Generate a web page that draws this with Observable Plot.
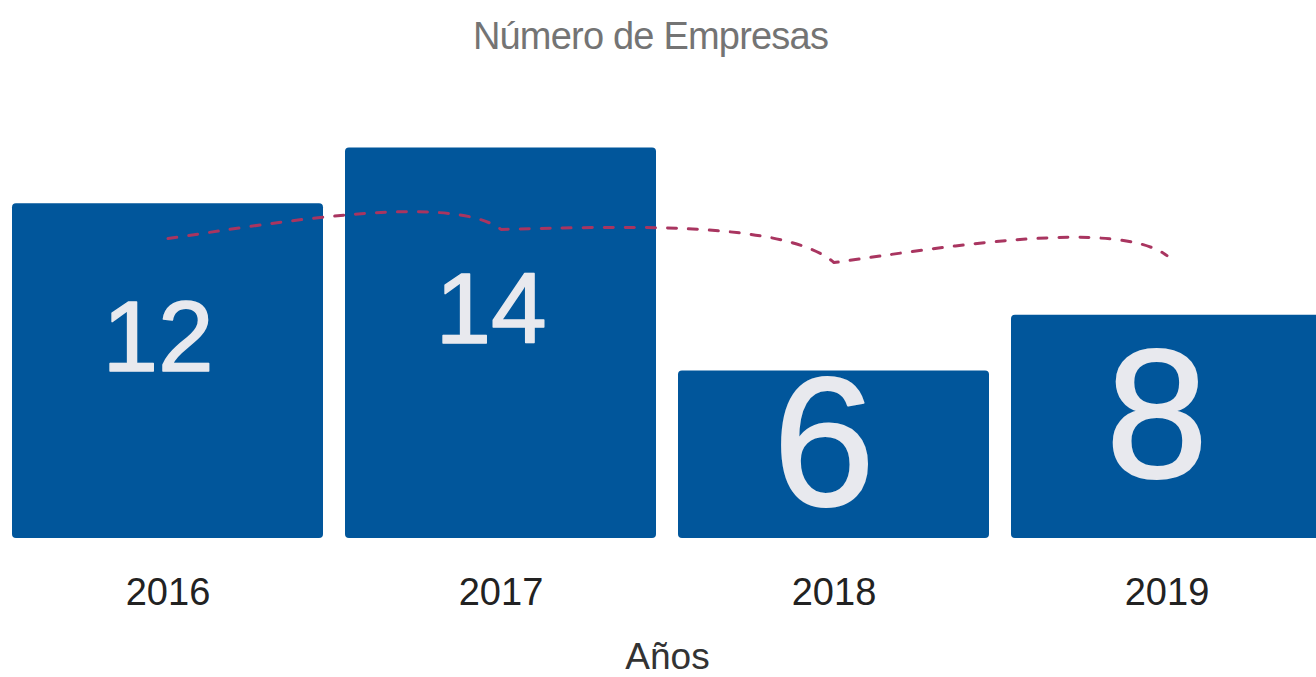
<!DOCTYPE html>
<html>
<head>
<meta charset="utf-8">
<script src="https://cdn.jsdelivr.net/npm/d3@7"></script>
<script src="https://cdn.jsdelivr.net/npm/@observablehq/plot@0.6"></script>
<style>
  html, body { margin: 0; padding: 0; background: #fff; overflow: hidden; }
  #title {
    box-sizing: border-box; width: 1301px; height: 70px; padding-top: 17px;
    font-family: "Liberation Sans", Arial, sans-serif; font-size: 38px; line-height: 38px;
    letter-spacing: -0.8px; color: #747474; text-align: center; white-space: nowrap;
  }
</style>
</head>
<body>
<div id="title">Número de Empresas</div>
<div id="chart"></div>
<script>
const anios = ["2016", "2017", "2018", "2019"];
const empresas = [12, 14, 6, 8];
const tendencia = [10.75, 11.08, 9.89, 10.14];
const ejeTitulo = "Años";

const data = anios.map((a, i) => ({anio: a, empresas: empresas[i], tendencia: tendencia[i]}));

// curve that bows each segment upward, leaning toward its end
function bowCurve(context) {
  let pts;
  return {
    areaStart() {}, areaEnd() {},
    lineStart() { pts = []; },
    point(x, y) { pts.push([+x, +y]); },
    lineEnd() {
      if (!pts.length) return;
      context.moveTo(pts[0][0], pts[0][1]);
      for (let i = 1; i < pts.length; i++) {
        const [x0, y0] = pts[i - 1], [x1, y1] = pts[i];
        const dx = x1 - x0, dy = y1 - y0;
        context.bezierCurveTo(
          x0 + dx / 3, y0 + dy / 3 - 0.04 * dx,
          x0 + 0.85 * dx, y0 + 0.85 * dy - 0.115 * dx,
          x1, y1
        );
      }
    }
  };
}

const font = "Liberation Sans, Arial, sans-serif";

const chart = Plot.plot({
  width: 1316,
  height: 607,
  marginTop: 30,
  marginBottom: 139,
  marginLeft: 0,
  marginRight: -18,
  style: {fontFamily: font, overflow: "hidden", background: "white"},
  x: {domain: anios, paddingInner: 0.065, paddingOuter: 0.03, axis: null},
  y: {domain: [0, 15.7], axis: null},
  marks: [
    Plot.barY(data, {x: "anio", y: "empresas", fill: "#01569b", rx: 4}),
    Plot.text(data, {
      filter: d => d.empresas >= 10,
      x: "anio", y: d => d.empresas / 2, text: d => String(d.empresas),
      fontSize: 100, dy: -32, dx: -10, fill: "#e8e9ee", lineAnchor: "middle", fontFamily: font,
      stroke: "#e8e9ee", strokeWidth: 1.5
    }),
    Plot.text(data, {
      filter: d => d.empresas < 10,
      x: "anio", y: d => d.empresas / 2, text: d => String(d.empresas),
      fontSize: 184, dy: -9, dx: -10, fill: "#e8e9ee", lineAnchor: "middle", fontFamily: font,
      stroke: "#e8e9ee", strokeWidth: 2
    }),
    Plot.line(data, {
      x: "anio", y: "tendencia", stroke: "#a93560", strokeWidth: 3,
      strokeDasharray: "9,12", curve: bowCurve
    }),
    Plot.axisX({tickSize: 0, tickPadding: 40, fontSize: 38, label: null, color: "#222"}),
    Plot.text([ejeTitulo], {
      frameAnchor: "bottom", dy: 130, lineAnchor: "bottom",
      fontSize: 37, fill: "#333", fontFamily: font
    })
  ]
});
document.getElementById("chart").appendChild(chart);
</script>
</body>
</html>
